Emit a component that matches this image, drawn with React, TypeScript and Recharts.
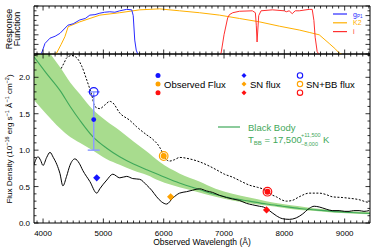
import React from 'react';
import { ComposedChart, Line, Area, Scatter, XAxis, YAxis, ErrorBar } from 'recharts';

const FONT = '"Liberation Sans", Arial, sans-serif';
const X_DOMAIN = [3850, 9420];

// filter response curves (top panel)
const gWave = [3960, 3977, 4032, 4115, 4200, 4280, 4412, 4500, 4610, 4700, 4776, 4860, 4941, 5020, 5106, 5190, 5272, 5387, 5470, 5495, 5520, 5545, 5569];
const gResp = [0, 0.02, 0.22, 0.33, 0.37, 0.43, 0.6, 0.63, 0.71, 0.74, 0.81, 0.82, 0.85, 0.87, 0.88, 0.87, 0.9, 0.93, 0.92, 0.8, 0.29, 0.08, 0];
const k2Wave = [4200, 4225, 4300, 4362, 4417, 4610, 4941, 5272, 5602, 5933, 6263, 6594, 6925, 7255, 7586, 7917, 8247, 8412, 8578, 8743, 8850, 8908, 8950];
const k2Resp = [0, 0.02, 0.2, 0.36, 0.57, 0.67, 0.81, 0.86, 0.92, 0.94, 0.9, 0.86, 0.81, 0.74, 0.67, 0.58, 0.5, 0.45, 0.4, 0.22, 0.1, 0.02, 0];
const iWave = [6930, 6952, 7000, 7060, 7090, 7145, 7255, 7470, 7520, 7535, 7548, 7560, 7575, 7614, 7801, 8000, 8032, 8080, 8131, 8180, 8247, 8412, 8462, 8490, 8511, 8544, 8570];
const iResp = [0, 0.02, 0.4, 0.75, 0.82, 0.86, 0.89, 0.9, 0.86, 0.6, 0.25, 0.5, 0.8, 0.9, 0.92, 0.9, 0.88, 0.9, 0.84, 0.9, 0.9, 0.93, 0.93, 0.7, 0.35, 0.05, 0];

// SN spectrum (solid)
const snWave = [3850, 3916, 3960, 3999, 4060, 4115, 4170, 4230, 4280, 4329, 4390, 4445, 4528, 4600, 4660, 4776, 4891, 4941, 5057, 5156, 5272, 5387, 5487, 5602, 5718, 5800, 5883, 5966, 6048, 6148, 6263, 6379, 6478, 6594, 6710, 6809, 6925, 7040, 7140, 7255, 7371, 7470, 7586, 7652, 7751, 7867, 7966, 8082, 8197, 8297, 8412, 8495, 8578, 8694, 8793, 8908, 9000, 9073, 9150, 9239, 9320, 9404];
const snSpec = [0.8, 0.91, 0.86, 0.79, 0.9, 0.97, 0.9, 0.8, 0.68, 0.51, 0.64, 0.79, 0.88, 0.82, 0.72, 0.57, 0.41, 0.47, 0.59, 0.67, 0.62, 0.64, 0.61, 0.6, 0.52, 0.45, 0.36, 0.29, 0.26, 0.34, 0.41, 0.43, 0.45, 0.47, 0.44, 0.42, 0.38, 0.35, 0.33, 0.31, 0.27, 0.25, 0.23, 0.22, 0.17, 0.1, 0.06, 0.05, 0.07, 0.12, 0.2, 0.23, 0.22, 0.19, 0.17, 0.17, 0.16, 0.16, 0.17, 0.17, 0.16, 0.17];

// SN + black body (dashed)
const sbWave = [4300, 4350, 4395, 4478, 4577, 4643, 4726, 4809, 4858, 4941, 5024, 5106, 5156, 5272, 5437, 5553, 5718, 5817, 5933, 5983, 6032, 6098, 6181, 6263, 6429, 6594, 6759, 6875, 7007, 7140, 7288, 7420, 7553, 7636, 7718, 7784, 7867, 7950, 8032, 8131, 8247, 8412, 8578, 8694, 8793, 8958, 9073, 9239, 9354, 9404];
const sbSpec = [2.12, 2.2, 2.27, 2.3, 2.25, 2.15, 1.96, 1.75, 1.6, 1.57, 1.62, 1.67, 1.65, 1.51, 1.41, 1.32, 1.21, 1.15, 1.04, 0.96, 0.88, 0.85, 0.87, 0.9, 0.88, 0.84, 0.78, 0.73, 0.67, 0.63, 0.57, 0.52, 0.49, 0.47, 0.43, 0.39, 0.36, 0.32, 0.3, 0.31, 0.36, 0.41, 0.41, 0.39, 0.36, 0.35, 0.34, 0.32, 0.29, 0.28];

// black body fit and its uncertainty band
const bbWave = [3850, 4050, 4280, 4450, 4610, 4820, 5050, 5270, 5500, 5720, 5930, 6260, 6590, 6860, 7140, 7420, 7700, 7970, 8250, 8520, 8790, 9100, 9420];
const bbFlux = [2.28, 2.06, 1.82, 1.6, 1.41, 1.19, 1.03, 0.91, 0.81, 0.73, 0.66, 0.55, 0.46, 0.39, 0.34, 0.3, 0.26, 0.23, 0.2, 0.18, 0.16, 0.145, 0.13];
const bbHi = [2.62, 2.4, 2.14, 1.93, 1.77, 1.56, 1.4, 1.27, 1.12, 0.98, 0.84, 0.68, 0.57, 0.47, 0.4, 0.35, 0.3, 0.26, 0.23, 0.2, 0.18, 0.16, 0.15];
const bbLo = [1.69, 1.5, 1.3, 1.18, 1.1, 1.0, 0.88, 0.8, 0.72, 0.66, 0.58, 0.49, 0.42, 0.36, 0.31, 0.27, 0.24, 0.21, 0.18, 0.165, 0.145, 0.13, 0.12];

// photometry, one per band (g, K2, i)
const bandColors = ['#1414ff', '#ffa200', '#ff1010'];
const filterColors = ['#2a2aff', '#ffb000', '#ff3030'];
const obsWave = [4840, 6000, 7720];
const obsFlux = [1.42, 0.92, 0.43];
const obsErrLow = [0.42, 0, 0];
const obsErrHigh = [0.38, 0, 0];
const snPhotWave = [4890, 6115, 7705];
const snPhotFlux = [0.62, 0.36, 0.18];
const snbbFlux = [1.8, 0.92, 0.43];

const xMajor = [4000, 5000, 6000, 7000, 8000, 9000];
const xTicks = Array.from({ length: 56 }, (_, i) => 3900 + i * 100);
const yTicks = Array.from({ length: 24 }, (_, i) => i / 10);
const respTicks = Array.from({ length: 11 }, (_, i) => i / 10);

const pairs = (xs: number[], ys: number[], key: string) => xs.map((w, i) => ({ wl: w, [key]: ys[i] }));

const gRows = pairs(gWave, gResp, 'r');
const k2Rows = pairs(k2Wave, k2Resp, 'r');
const iRows = pairs(iWave, iResp, 'r');
const snRows = pairs(snWave, snSpec, 'f');
const sbRows = pairs(sbWave, sbSpec, 'f');
const bbRows = pairs(bbWave, bbFlux, 'f');
const bandRows = bbWave.map((w, i) => ({ wl: w, range: [bbLo[i], bbHi[i]] }));

function XTick(props: any) {
  const { x, y, payload, dir, showLabel } = props;
  const v = payload.value;
  const major = xMajor.includes(v);
  const len = major ? 4.5 : 2.5;
  return (
    <g>
      <line x1={x} x2={x} y1={y} y2={y + dir * len} stroke="#000" strokeWidth={0.8} />
      {showLabel && major ? (
        <text x={x} y={y + 13} textAnchor="middle" fontSize={8} fontFamily={FONT} fill="#000">{v}</text>
      ) : null}
    </g>
  );
}

function YTick(props: any) {
  const { x, y, payload, dir, showLabel, step } = props;
  const v = payload.value;
  const major = Math.abs(v / step - Math.round(v / step)) < 1e-6;
  const len = major ? 4.5 : 2.5;
  return (
    <g>
      <line x1={x} x2={x + dir * len} y1={y} y2={y} stroke="#000" strokeWidth={0.8} />
      {showLabel && major ? (
        <text x={x - 4} y={y + 3} textAnchor="end" fontSize={8} fontFamily={FONT} fill="#000">{v.toFixed(1)}</text>
      ) : null}
    </g>
  );
}

const axisLine = { stroke: '#000', strokeWidth: 1 };

const Diamond = (cx: number, cy: number, r: number, fill: string) => (
  <path d={`M${cx},${cy - r}L${cx + r},${cy}L${cx},${cy + r}L${cx - r},${cy}Z`} fill={fill} />
);

// axes need a non-zero box to be drawn; margins absorb that 1px
const frameAxes = (yDomain: number[], yT: number[], step: number, labels: boolean) => [
  <XAxis key="xb" xAxisId="b" dataKey="wl" type="number" domain={X_DOMAIN} allowDataOverflow ticks={xTicks} interval={0}
    height={1} tickSize={0} tickMargin={0} axisLine={axisLine} tickLine={false}
    tick={<XTick dir={-1} showLabel={labels} />} />,
  <XAxis key="xt" xAxisId="t" orientation="top" dataKey="wl" type="number" domain={X_DOMAIN} allowDataOverflow ticks={xTicks} interval={0}
    height={1} tickSize={0} tickMargin={0} axisLine={axisLine} tickLine={false}
    tick={<XTick dir={1} />} />,
  <YAxis key="yl" yAxisId="l" type="number" domain={yDomain} allowDataOverflow ticks={yT} interval={0}
    width={1} tickSize={0} tickMargin={0} axisLine={axisLine} tickLine={false}
    tick={<YTick dir={1} showLabel={labels} step={step} />} />,
  <YAxis key="yr" yAxisId="r" orientation="right" type="number" domain={yDomain} allowDataOverflow ticks={yT} interval={0}
    width={1} tickSize={0} tickMargin={0} axisLine={axisLine} tickLine={false}
    tick={<YTick dir={-1} step={step} />} />,
];

export default function App() {
  return (
    <div style={{ position: 'absolute', left: 0, top: 0, width: 374, height: 249, background: '#fff' }}>
      <div style={{ position: 'absolute', left: 0, top: 0 }}>
        <ComposedChart width={374} height={249} margin={{ top: 53, right: 3, bottom: 25, left: 33 }}>
          {frameAxes([0, 2.32], yTicks, 0.5, true)}

          <Area xAxisId="b" yAxisId="l" data={bandRows} dataKey="range" type="monotone" stroke="none"
            fill="#a8dc8e" fillOpacity={1} isAnimationActive={false} />
          <Line xAxisId="b" yAxisId="l" data={bbRows} dataKey="f" type="monotone" stroke="#3fa85a" strokeWidth={1.1}
            dot={false} isAnimationActive={false} />
          <Line xAxisId="b" yAxisId="l" data={snRows} dataKey="f" type="monotone" stroke="#000" strokeWidth={1}
            dot={false} isAnimationActive={false} />
          <Line xAxisId="b" yAxisId="l" data={sbRows} dataKey="f" type="monotone" stroke="#000" strokeWidth={1}
            strokeDasharray="2 1.6" dot={false} isAnimationActive={false} />

          {bandColors.map((c, i) => (
            <Scatter key={'sb' + i} xAxisId="b" yAxisId="l" data={[{ wl: obsWave[i], f: snbbFlux[i] }]} dataKey="f"
              isAnimationActive={false}
              shape={(p: any) => <circle cx={p.cx} cy={p.cy} r={4.3} fill="none" stroke={c} strokeWidth={1.2} />} />
          ))}
          {bandColors.map((c, i) => (
            <Scatter key={'obs' + i} xAxisId="b" yAxisId="l"
              data={[{ wl: obsWave[i], f: obsFlux[i], err: [obsErrLow[i], obsErrHigh[i]] }]} dataKey="f"
              isAnimationActive={false}
              shape={(p: any) => <circle cx={p.cx} cy={p.cy} r={i === 0 ? 2.4 : 3} fill={c} />}>
              {i === 0 ? (
                <ErrorBar dataKey="err" direction="y" width={6} stroke="#8d9cff" strokeWidth={1.5} />
              ) : null}
            </Scatter>
          ))}
          {bandColors.map((c, i) => (
            <Scatter key={'sn' + i} xAxisId="b" yAxisId="l" data={[{ wl: snPhotWave[i], f: snPhotFlux[i] }]} dataKey="f"
              isAnimationActive={false}
              shape={(p: any) => Diamond(p.cx, p.cy, 3.6, c)} />
          ))}
        </ComposedChart>
      </div>

      <div style={{ position: 'absolute', left: 0, top: 0 }}>
        <ComposedChart width={374} height={60} margin={{ top: 5, right: 3, bottom: 5, left: 33 }}>
          {frameAxes([0, 1], respTicks, 0.2, false)}
          <Line xAxisId="b" yAxisId="l" data={k2Rows} dataKey="r" type="linear" stroke={filterColors[1]} strokeWidth={1}
            dot={false} isAnimationActive={false} />
          <Line xAxisId="b" yAxisId="l" data={gRows} dataKey="r" type="linear" stroke={filterColors[0]} strokeWidth={1}
            dot={false} isAnimationActive={false} />
          <Line xAxisId="b" yAxisId="l" data={iRows} dataKey="r" type="linear" stroke={filterColors[2]} strokeWidth={1}
            dot={false} isAnimationActive={false} />
        </ComposedChart>
      </div>

      <svg width={374} height={249} style={{ position: 'absolute', left: 0, top: 0, pointerEvents: 'none' }} fontFamily={FONT}>
        {/* axis titles */}
        <text transform="translate(12,29) rotate(-90)" textAnchor="middle" fontSize={9} fill="#000">Response</text>
        <text transform="translate(20,29) rotate(-90)" textAnchor="middle" fontSize={9} fill="#000">Function</text>
        <text transform="translate(12,139) rotate(-90)" textAnchor="middle" fontSize={8} fill="#000">
          Flux Density (10<tspan fontSize={5.5} dy={-3}>−16</tspan>
          <tspan fontSize={8} dy={3}> erg s</tspan><tspan fontSize={5.5} dy={-3}>−1</tspan>
          <tspan fontSize={8} dy={3}> Å</tspan><tspan fontSize={5.5} dy={-3}>−1</tspan>
          <tspan fontSize={8} dy={3}> cm</tspan><tspan fontSize={5.5} dy={-3}>−2</tspan>
          <tspan fontSize={8} dy={3}>)</tspan>
        </text>
        <text x={202} y={245} textAnchor="middle" fontSize={8.5} fill="#000">Observed Wavelength (Å)</text>

        {/* filter legend */}
        {filterColors.map((c, i) => (
          <line key={'fl' + i} x1={333} x2={347} y1={14 + i * 8.8} y2={14 + i * 8.8} stroke={c} strokeWidth={1.2} />
        ))}
        <text x={353} y={16.5} fontSize={7} fill={filterColors[0]}>g<tspan fontSize={4.5} dy={1.5}>P1</tspan></text>
        <text x={353} y={25.3} fontSize={7} fill={filterColors[1]}>K2</text>
        <text x={353} y={34.1} fontSize={7} fill={filterColors[2]}>i</text>

        {/* photometry legend */}
        {bandColors.map((c, i) => (
          <g key={'lg' + i}>
            <circle cx={158} cy={75.5 + i * 8.6} r={2.5} fill={c} />
            {Diamond(244, 75.5 + i * 8.6, 2.5, c)}
            <circle cx={300} cy={75.5 + i * 8.6} r={2.7} fill="none" stroke={c} strokeWidth={1.1} />
          </g>
        ))}
        <text x={164} y={87.5} fontSize={9.5} fill="#000">Observed Flux</text>
        <text x={250} y={87.5} fontSize={9.5} fill="#000">SN flux</text>
        <text x={306} y={87.5} fontSize={9.5} fill="#000">SN+BB flux</text>

        {/* black body legend */}
        <line x1={218} x2={240} y1={127} y2={127} stroke="#3fa85a" strokeWidth={1.2} />
        <text x={248} y={130.5} fontSize={9.5} fill="#3fa85a">Black Body</text>
        <text x={248} y={142.5} fontSize={9.5} fill="#3fa85a">
          T<tspan fontSize={6} dy={2}>BB</tspan><tspan fontSize={9.5} dy={-2}> = 17,500</tspan>
        </text>
        <text x={301} y={137} fontSize={5.5} fill="#3fa85a">+11,500</text>
        <text x={301} y={146} fontSize={5.5} fill="#3fa85a">−8,000</text>
        <text x={323} y={142.5} fontSize={9.5} fill="#3fa85a">K</text>
      </svg>
    </div>
  );
}
